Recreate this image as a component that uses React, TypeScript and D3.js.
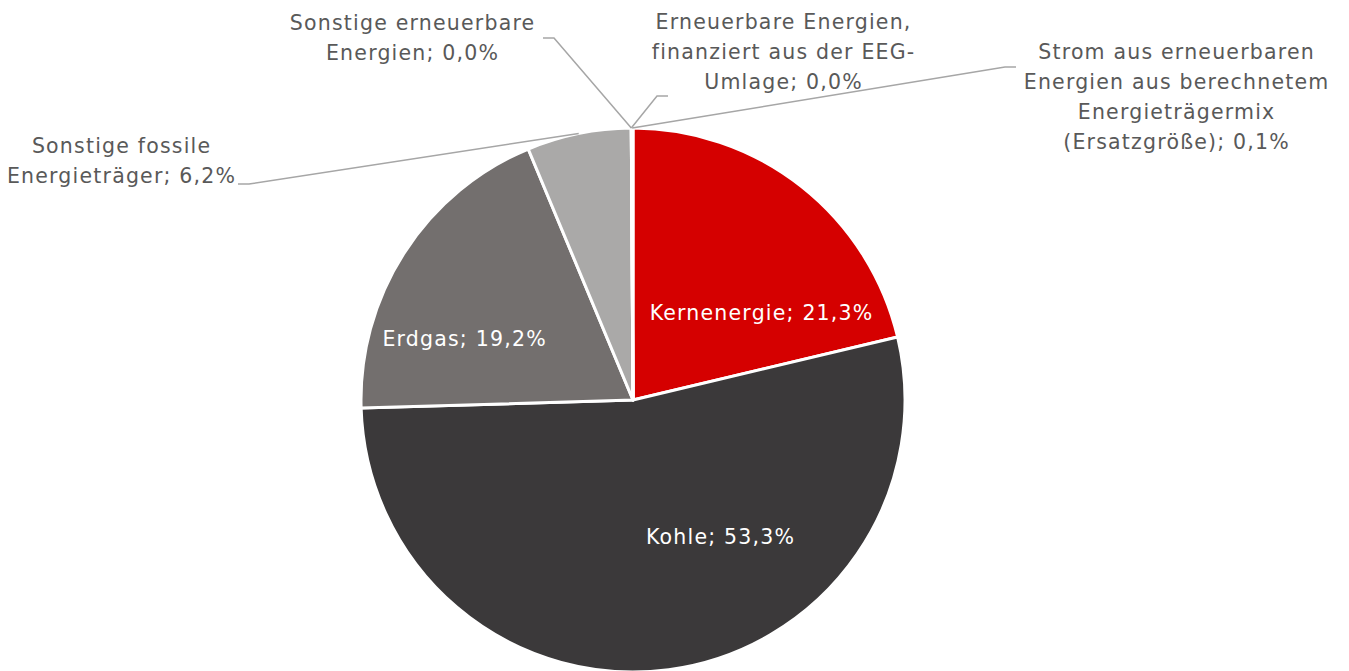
import React from "react";
import * as d3 from "d3";

const categories = [
  "Kernenergie",
  "Kohle",
  "Erdgas",
  "Sonstige fossile Energieträger",
  "Sonstige erneuerbare Energien",
  "Erneuerbare Energien, finanziert aus der EEG-Umlage",
  "Strom aus erneuerbaren Energien aus berechnetem Energieträgermix (Ersatzgröße)",
];
const values = [21.3, 53.3, 19.2, 6.2, 0.0, 0.0, 0.1];
const valueLabels = ["21,3%", "53,3%", "19,2%", "6,2%", "0,0%", "0,0%", "0,1%"];
const colors = ["#d50000", "#3b393a", "#736f6e", "#aaa9a8", "#8fbf5a", "#5a9e3a", "#a0c878"];

// label text lines (display)
const labelLines = [
  ["Kernenergie; 21,3%"],
  ["Kohle; 53,3%"],
  ["Erdgas; 19,2%"],
  ["Sonstige fossile", "Energieträger; 6,2%"],
  ["Sonstige erneuerbare", "Energien; 0,0%"],
  ["Erneuerbare Energien,", "finanziert aus der EEG-", "Umlage; 0,0%"],
  ["Strom aus erneuerbaren", "Energien aus berechnetem", "Energieträgermix", "(Ersatzgröße); 0,1%"],
];

// layout (label centers / leader anchor points)
const layout = [
  { x: 761, y: 313, inside: true },
  { x: 720, y: 537, inside: true },
  { x: 464, y: 339, inside: true },
  { x: 121, y: 161, inside: false, lx: 238, ly: 184, dir: 1 },
  { x: 412, y: 38, inside: false, lx: 543, ly: 38, dir: 1 },
  { x: 783, y: 52, inside: false, lx: 668, ly: 96, dir: -1 },
  { x: 1176, y: 97, inside: false, lx: 1016, ly: 67, dir: -1 },
];

const W = 1349;
const H = 671;
const cx = 633;
const cy = 400;
const R = 272;
const FONT = "'DejaVu Sans', sans-serif";
const LINE_H = 30;
const LS = 1.2;

export default function App() {
  const pie = d3.pie<number>().sort(null).value((d) => d)(values);
  const arc = d3.arc<d3.PieArcDatum<number>>().innerRadius(0).outerRadius(R);

  return (
    <svg width={W} height={H} style={{ position: "absolute", left: 0, top: 0, display: "block" }}>
      <rect width={W} height={H} fill="#ffffff" />
      <g transform={`translate(${cx},${cy})`}>
        {pie.map((p, i) => (
          <path key={categories[i]} d={arc(p) || ""} fill={colors[i]} stroke="#ffffff" strokeWidth={3} strokeLinejoin="round" />
        ))}
      </g>
      {pie.map((p, i) => {
        const L = layout[i];
        if (L.inside) return null;
        const mid = (p.startAngle + p.endAngle) / 2;
        const ex = cx + R * Math.sin(mid);
        const ey = cy - R * Math.cos(mid);
        const hx = L.lx! + (L.dir! > 0 ? 11 : -11);
        return (
          <polyline
            key={"l" + i}
            points={`${L.lx},${L.ly} ${hx},${L.ly} ${ex},${ey}`}
            fill="none"
            stroke="#a6a6a6"
            strokeWidth={1.5}
          />
        );
      })}
      {pie.map((p, i) => {
        const L = layout[i];
        const lines = labelLines[i];
        const n = lines.length;
        const y0 = L.y - ((n - 1) * LINE_H) / 2;
        return (
          <text
            key={"t" + i}
            textAnchor="middle"
            fontFamily={FONT}
            fontWeight={400}
            fontSize={20.5}
            letterSpacing={LS}
            fill={L.inside ? "#ffffff" : "#595959"}
          >
            {lines.map((ln, j) => (
              <tspan key={j} x={L.x + LS / 2} y={y0 + j * LINE_H} dy="0.35em">
                {ln}
              </tspan>
            ))}
          </text>
        );
      })}
    </svg>
  );
}
